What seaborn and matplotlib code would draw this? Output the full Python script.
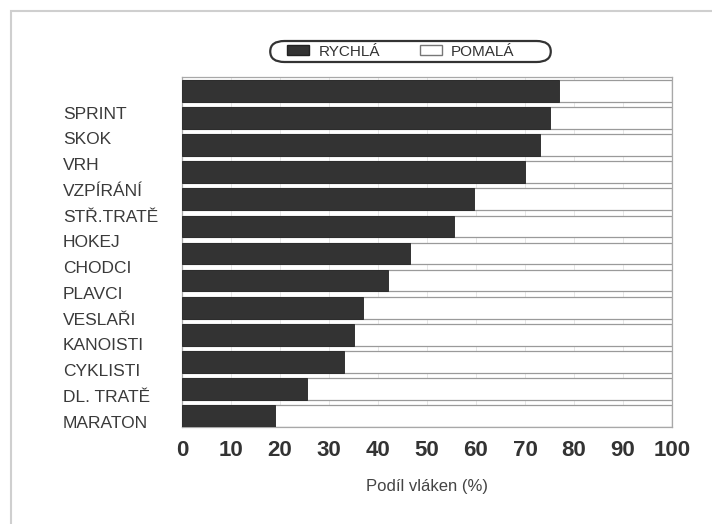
import matplotlib
matplotlib.use("Agg")
import matplotlib.pyplot as plt
import matplotlib.patches as mpatches
import seaborn as sns
import pandas as pd

# --- data ---
kategorie = ["SPRINT", "SKOK", "VRH", "VZPÍRÁNÍ", "STŘ.TRATĚ", "HOKEJ", "CHODCI",
             "PLAVCI", "VESLAŘI", "KANOISTI", "CYKLISTI", "DL. TRATĚ", "MARATON"]
rychla = [77, 75, 73, 70, 59.5, 55.5, 46.5, 42, 37, 35, 33, 25.5, 19]
pomala = [23, 25, 27, 30, 40.5, 44.5, 53.5, 58, 63, 65, 67, 74.5, 81]
x_ticks = [0, 10, 20, 30, 40, 50, 60, 70, 80, 90, 100]
x_label = "Podíl vláken (%)"
legend_labels = ["RYCHLÁ", "POMALÁ"]

df = pd.DataFrame({"kategorie": kategorie, "rychla": rychla, "pomala": pomala})
df["celkem"] = df["rychla"] + df["pomala"]

sns.set_theme(style="white")
plt.rcParams["font.family"] = ["Liberation Sans", "DejaVu Sans"]

W, H = 712, 524
fig = plt.figure(figsize=(W / 100, H / 100), dpi=100)

def fx(px):
    return px / W

def fy(py):
    return 1 - py / H

# main axes
ax_l, ax_r, ax_t, ax_b = 182, 672, 77, 427
ax = fig.add_axes([fx(ax_l), fy(ax_b), fx(ax_r - ax_l), (ax_b - ax_t) / H])

dark = "#333333"
sns.barplot(data=df, x="celkem", y="kategorie", orient="h", color="white",
            edgecolor="#9a9a9a", linewidth=0.9, width=0.8, ax=ax, zorder=2)
sns.barplot(data=df, x="rychla", y="kategorie", orient="h", color=dark,
            edgecolor="#222222", linewidth=0.6, width=0.8, ax=ax, zorder=3,
            saturation=1)

ax.set_xlim(0, 100)
ax.set_ylim(12.4, -0.51)
ax.set_xticks(x_ticks)
ax.set_xticklabels([str(t) for t in x_ticks], fontsize=16, fontweight="bold",
                   color="#333333")
ax.tick_params(axis="x", length=0, pad=9)
ax.tick_params(axis="y", length=0, labelleft=False)
ax.set_ylabel("")
ax.set_xlabel(x_label, fontsize=12, color="#444444", labelpad=13)
ax.xaxis.grid(True, color="#e6e6e6", linewidth=0.7)
ax.set_axisbelow(True)
for s in ax.spines.values():
    s.set_color("#a8a8a8")
    s.set_linewidth(0.9)
    s.set_visible(True)
ax.spines["bottom"].set_linestyle((0, (2, 1)))

# category labels (as in the reference, on their own scale)
lab_top, lab_bot = 112.7, 421.7
step = (lab_bot - lab_top) / (len(kategorie) - 1)
lax = fig.add_axes([fx(63), fy(lab_bot + step / 2), 0.0001, (lab_bot - lab_top + step) / H])
lax.set_ylim(len(kategorie) - 0.5, -0.5)
lax.set_yticks(range(len(kategorie)))
lax.set_yticklabels(kategorie, fontsize=12.5, color="#3a3a3a", ha="left")
lax.tick_params(axis="y", length=0, pad=0)
lax.set_xticks([])
for s in lax.spines.values():
    s.set_visible(False)
lax.patch.set_alpha(0)

# legend box (pill shaped frame)
box_l, box_r, box_t, box_b = 274, 547, 41, 62
rad = (box_b - box_t) / 2
pill = mpatches.FancyBboxPatch((fx(box_l + rad), fy(box_b - rad)),
                               fx(box_r - box_l - 2 * rad), 0,
                               boxstyle=f"round,pad={rad / H},rounding_size={rad / H}",
                               transform=fig.transFigure, facecolor="white",
                               edgecolor="#333333", linewidth=1.6, zorder=5,
                               mutation_aspect=1)
fig.patches.append(pill)

handles = [mpatches.Patch(facecolor=dark, edgecolor="#222222", label=legend_labels[0]),
           mpatches.Patch(facecolor="white", edgecolor="#777777", label=legend_labels[1])]
leg = fig.legend(handles=handles, loc="center", bbox_to_anchor=(fx(401), fy(51.5)),
                 ncol=2, fontsize=11, frameon=False,
                 handlelength=1.45, handleheight=0.6, handletextpad=0.6,
                 columnspacing=2.6, borderpad=0.0, borderaxespad=0)
leg.set_zorder(6)
for t in leg.get_texts():
    t.set_color("#333333")

# outer page frame
fig.patches.append(mpatches.Rectangle((fx(11), -0.1), 1.2, fy(11) + 0.1,
                                      transform=fig.transFigure, fill=False,
                                      edgecolor="#cfcfcf", linewidth=1.5))

fig.savefig("out.png", dpi=100)
